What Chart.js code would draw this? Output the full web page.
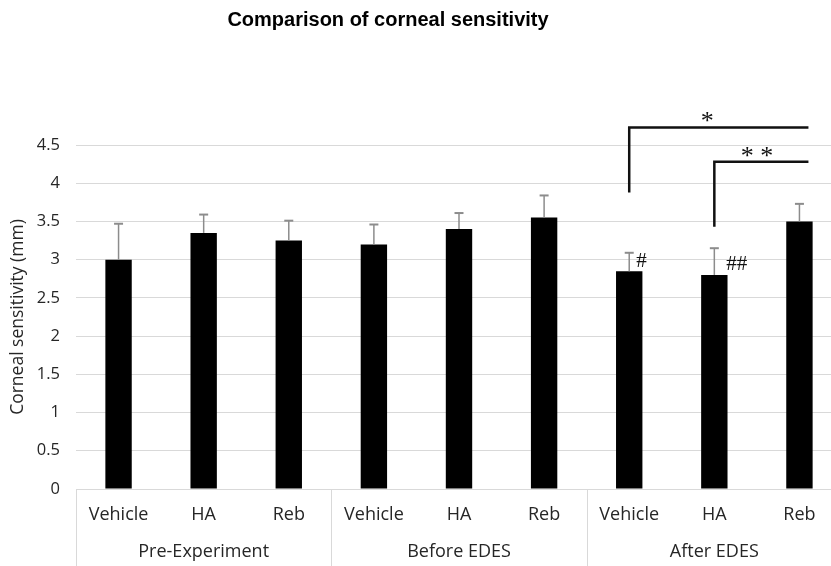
<!DOCTYPE html>
<html>
<head>
<meta charset="utf-8">
<script src="https://cdn.jsdelivr.net/npm/chart.js@4.4.1/dist/chart.umd.min.js"></script>
<style>
  html, body { margin: 0; padding: 0; background: #fff; overflow: hidden; }
  canvas { display: block; }
</style>
</head>
<body>
<canvas id="c" width="846" height="566"></canvas>
<script>
// categories and groups (two level axis)
var categories = ['Vehicle', 'HA', 'Reb', 'Vehicle', 'HA', 'Reb', 'Vehicle', 'HA', 'Reb'];
var groups = ['Pre-Experiment', 'Before EDES', 'After EDES'];

// mean corneal sensitivity (mm) and upper error
var means = [3.0, 3.35, 3.25, 3.2, 3.4, 3.55, 2.85, 2.8, 3.5];
var errors = [0.47, 0.24, 0.26, 0.26, 0.21, 0.29, 0.24, 0.35, 0.23];

// marks next to bars
var notes = ['', '', '', '', '', '', '#', '##', ''];

// significance brackets: from category, to category, top, bottom of the left leg
var bracketFrom = [6, 7];
var bracketTo = [8, 8];
var bracketTop = [4.73, 4.28];
var bracketLeg = [3.88, 3.43];
var bracketLabel = ['*', '* *'];

var GRID = '#d9d9d9';
var TEXT = '#262626';

var extras = {
  id: 'extras',
  afterDatasetsDraw: function (chart) {
    var ctx = chart.ctx;
    var x = chart.scales.x, y = chart.scales.y;
    ctx.save();

    // error bars (upper only)
    ctx.strokeStyle = '#8c8c8c';
    for (var i = 0; i < means.length; i++) {
      var cx = x.getPixelForValue(i);
      var y0 = y.getPixelForValue(means[i]);
      var y1 = y.getPixelForValue(means[i] + errors[i]);
      ctx.lineWidth = 1.5;
      ctx.beginPath();
      ctx.moveTo(cx, y0);
      ctx.lineTo(cx, y1);
      ctx.stroke();
      ctx.lineWidth = 2;
      ctx.beginPath();
      ctx.moveTo(cx - 4.5, y1);
      ctx.lineTo(cx + 4.5, y1);
      ctx.stroke();
    }

    // # marks
    ctx.fillStyle = '#111';
    ctx.font = '21px "Liberation Serif", serif';
    ctx.textAlign = 'left';
    ctx.textBaseline = 'middle';
    for (var i = 0; i < notes.length; i++) {
      if (!notes[i]) continue;
      var cx = x.getPixelForValue(i);
      if (notes[i] === '#') {
        ctx.fillText(notes[i], cx + 7, y.getPixelForValue(means[i] + errors[i]) + 9);
      } else {
        ctx.fillText(notes[i], cx + 12, y.getPixelForValue(means[i]) - 10);
      }
    }

    // significance brackets
    ctx.strokeStyle = '#111';
    ctx.lineWidth = 2.5;
    ctx.font = '26px "Liberation Serif", serif';
    ctx.textAlign = 'center';
    ctx.textBaseline = 'alphabetic';
    for (var b = 0; b < bracketFrom.length; b++) {
      var xa = x.getPixelForValue(bracketFrom[b]);
      var xb = x.getPixelForValue(bracketTo[b]) + 9;
      var yt = y.getPixelForValue(bracketTop[b]);
      var yl = y.getPixelForValue(bracketLeg[b]);
      ctx.beginPath();
      ctx.moveTo(xa, yl);
      ctx.lineTo(xa, yt);
      ctx.lineTo(xb, yt);
      ctx.stroke();
      var mid = (x.getPixelForValue(bracketFrom[b]) + x.getPixelForValue(bracketTo[b])) / 2;
      ctx.fillText(bracketLabel[b], mid - (b === 0 ? 7 : 0), yt + 2);
    }
    ctx.restore();
  },
  afterDraw: function (chart) {
    var ctx = chart.ctx;
    var x = chart.scales.x;
    var area = chart.chartArea;
    var h = chart.height;
    ctx.save();

    // group separators below the axis
    ctx.strokeStyle = GRID;
    ctx.lineWidth = 1;
    var step = x.getPixelForValue(1) - x.getPixelForValue(0);
    for (var g = 0; g <= groups.length; g++) {
      var sx = Math.round(x.getPixelForValue(g * 3) - step / 2) + 0.5;
      ctx.beginPath();
      ctx.moveTo(sx, area.bottom);
      ctx.lineTo(sx, h);
      ctx.stroke();
    }

    // group labels
    ctx.fillStyle = TEXT;
    ctx.font = '18px "Open Sans", sans-serif';
    ctx.textAlign = 'center';
    ctx.textBaseline = 'middle';
    for (var g = 0; g < groups.length; g++) {
      var gx = (x.getPixelForValue(g * 3) + x.getPixelForValue(g * 3 + 2)) / 2;
      ctx.fillText(groups[g], gx, 552);
    }

    // title
    ctx.fillStyle = '#000';
    ctx.font = 'bold 20px "Liberation Sans", Arial, sans-serif';
    ctx.fillText('Comparison of corneal sensitivity', 388, 20);
    ctx.restore();
  }
};

new Chart(document.getElementById('c'), {
  type: 'bar',
  data: {
    labels: categories,
    datasets: [{
      data: means,
      backgroundColor: '#000',
      borderWidth: 0,
      barPercentage: 0.31,
      categoryPercentage: 1
    }]
  },
  options: {
    responsive: false,
    animation: false,
    layout: { padding: { top: 145, left: 0, right: 4, bottom: 0 } },
    plugins: {
      legend: { display: false },
      tooltip: { enabled: false }
    },
    scales: {
      x: {
        grid: { display: false, drawTicks: false },
        border: { color: GRID },
        ticks: {
          color: TEXT,
          font: { family: 'Open Sans', size: 18 },
          padding: 15,
          maxRotation: 0,
          autoSkip: false
        },
        afterFit: function (s) { s.height = 77; }
      },
      y: {
        min: 0,
        max: 4.5,
        grid: { color: GRID, drawTicks: false },
        border: { display: false },
        ticks: {
          stepSize: 0.5,
          color: TEXT,
          font: { family: 'Open Sans', size: 16.5 },
          padding: 16,
          callback: function (v) { return String(v); }
        },
        title: {
          display: true,
          text: 'Corneal sensitivity (mm)',
          color: TEXT,
          font: { family: 'Open Sans', size: 17.5 },
          padding: { top: 8, bottom: 0 }
        },
        afterFit: function (s) { s.width = 76; }
      }
    }
  },
  plugins: [extras]
});
</script>
</body>
</html>
